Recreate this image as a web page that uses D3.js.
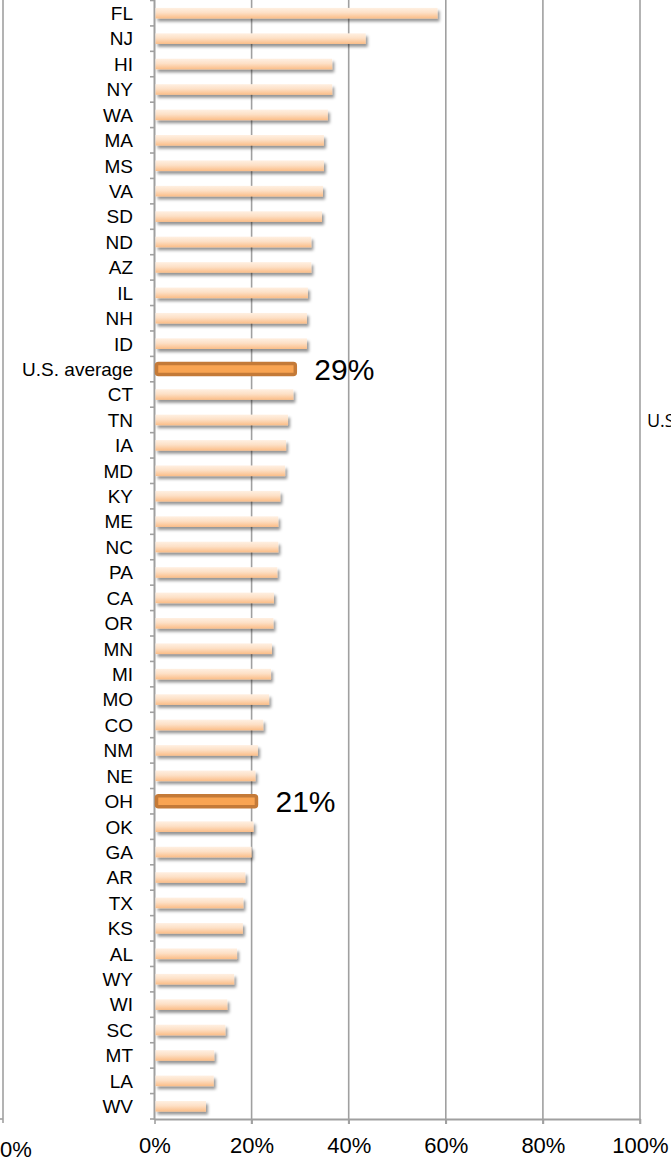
<!DOCTYPE html>
<html>
<head>
<meta charset="utf-8">
<script src="https://cdn.jsdelivr.net/npm/d3@7"></script>
<style>
html,body{margin:0;padding:0;background:#fff;overflow:hidden;}
svg{display:block;}
</style>
</head>
<body>
<svg id="chart" width="671" height="1162"></svg>
<script>
const states = ["FL","NJ","HI","NY","WA","MA","MS","VA","SD","ND","AZ","IL","NH","ID","U.S. average","CT","TN","IA","MD","KY","ME","NC","PA","CA","OR","MN","MI","MO","CO","NM","NE","OH","OK","GA","AR","TX","KS","AL","WY","WI","SC","MT","LA","WV"];
const values = [58.3,43.5,36.6,36.6,35.7,34.9,34.9,34.7,34.5,32.3,32.3,31.6,31.4,31.4,29.0,28.6,27.5,27.1,26.9,25.9,25.5,25.5,25.3,24.6,24.5,24.2,24.0,23.6,22.4,21.3,20.8,21.0,20.4,20.0,18.7,18.3,18.2,17.0,16.4,15.0,14.6,12.3,12.2,10.6];
const highlighted = ["U.S. average","OH"];
const annotationCats = ["U.S. average","OH"];
const annotationText = ["29%","21%"];
const xTicks = [0,20,40,60,80,100];
const leftAxisLabel = "0%";
const cutLegend = "U.S. average";

const svg = d3.select("#chart");
const defs = svg.append("defs");
const grad = defs.append("linearGradient").attr("id","barGrad").attr("x1",0).attr("y1",0).attr("x2",0).attr("y2",1);
grad.append("stop").attr("offset","0%").attr("stop-color","#fff0e2");
grad.append("stop").attr("offset","45%").attr("stop-color","#fde0c6");
grad.append("stop").attr("offset","100%").attr("stop-color","#fbbd87");
const f = defs.append("filter").attr("id","shadow").attr("x","-5%").attr("y","-50%").attr("width","115%").attr("height","250%");
f.append("feDropShadow").attr("dx",2).attr("dy",3).attr("stdDeviation",1.6).attr("flood-color","#000").attr("flood-opacity",0.42);

const x = d3.scaleLinear().domain([0,100]).range([154.5,640]);
const y = d3.scaleBand().domain(states).range([0.5,1119]).paddingInner(0).paddingOuter(0);
const gray = "#a0a0a0";

// gridlines
svg.append("g").selectAll("line").data(xTicks.slice(1)).join("line")
  .attr("x1",d=>x(d)).attr("x2",d=>x(d)).attr("y1",0).attr("y2",1124)
  .attr("stroke",gray).attr("stroke-width",1.6);

// bottom axis
const xAxis = d3.axisBottom(x).tickValues(xTicks).tickFormat(d=>d+"%").tickSizeInner(5).tickSizeOuter(0).tickPadding(13);
const gx = svg.append("g").attr("transform","translate(0,1119)").call(xAxis);
gx.select(".domain").attr("stroke",gray).attr("stroke-width",2);
gx.selectAll(".tick line").attr("stroke",gray).attr("stroke-width",1.6);
gx.selectAll(".tick text").attr("font-family","Liberation Sans, Arial, sans-serif").attr("font-size",22).attr("fill","#000");

// left category axis
svg.append("line").attr("x1",154.5).attr("x2",154.5).attr("y1",0).attr("y2",1120).attr("stroke",gray).attr("stroke-width",2);
const bounds = states.map((s,i)=>y(s)).concat([1119]);
svg.append("g").selectAll("line").data(bounds).join("line")
  .attr("x1",150).attr("x2",154.5).attr("y1",d=>d).attr("y2",d=>d)
  .attr("stroke",gray).attr("stroke-width",1.6);
svg.append("g").selectAll("text").data(states).join("text")
  .attr("x",133).attr("y",d=>y(d)+y.bandwidth()/2)
  .attr("dy","0.36em").attr("text-anchor","end")
  .attr("font-family","Liberation Sans, Arial, sans-serif").attr("font-size",19)
  .attr("fill","#000").text(d=>d);

// far left axis
svg.append("line").attr("x1",3).attr("x2",3).attr("y1",0).attr("y2",1123).attr("stroke",gray).attr("stroke-width",1.6);
svg.append("line").attr("x1",0).attr("x2",3).attr("y1",1119).attr("y2",1119).attr("stroke",gray).attr("stroke-width",1.6);
svg.append("text").attr("x",0).attr("y",1157).attr("font-family","Liberation Sans, Arial, sans-serif")
  .attr("font-size",22).attr("fill","#000").text(leftAxisLabel);

// bars
const data = states.map((s,i)=>({s, v: values[i], hi: highlighted.includes(s)}));
const barH = 10.6;
svg.append("g").selectAll("rect").data(data.filter(d=>!d.hi)).join("rect")
  .attr("x",x(0)+1).attr("y",d=>y(d.s)+y.bandwidth()/2-barH/2)
  .attr("width",d=>x(d.v)-x(0)-1).attr("height",barH)
  .attr("fill","url(#barGrad)").attr("filter","url(#shadow)");
svg.append("g").selectAll("rect").data(data.filter(d=>d.hi)).join("rect")
  .attr("x",x(0)+2).attr("y",d=>y(d.s)+y.bandwidth()/2-5.5)
  .attr("width",d=>x(d.v)-x(0)-2).attr("height",11)
  .attr("rx",2)
  .attr("fill","#f9a452").attr("stroke","#c47a38").attr("stroke-width",3.5);

// annotations
svg.append("g").selectAll("text").data(annotationCats).join("text")
  .attr("x",(d)=>x(values[states.indexOf(d)])+19)
  .attr("y",d=>y(d)+y.bandwidth()/2)
  .attr("dy","0.36em")
  .attr("font-family","Liberation Sans, Arial, sans-serif").attr("font-size",30).attr("fill","#000")
  .text((d,i)=>annotationText[i]);

// clipped legend text at right edge (cut off in the reference too)
svg.append("text").attr("x",647).attr("y",421).attr("dy","0.36em")
  .attr("font-family","Open Sans, sans-serif").attr("font-size",18).attr("fill","#000").text(cutLegend);
</script>
</body>
</html>
